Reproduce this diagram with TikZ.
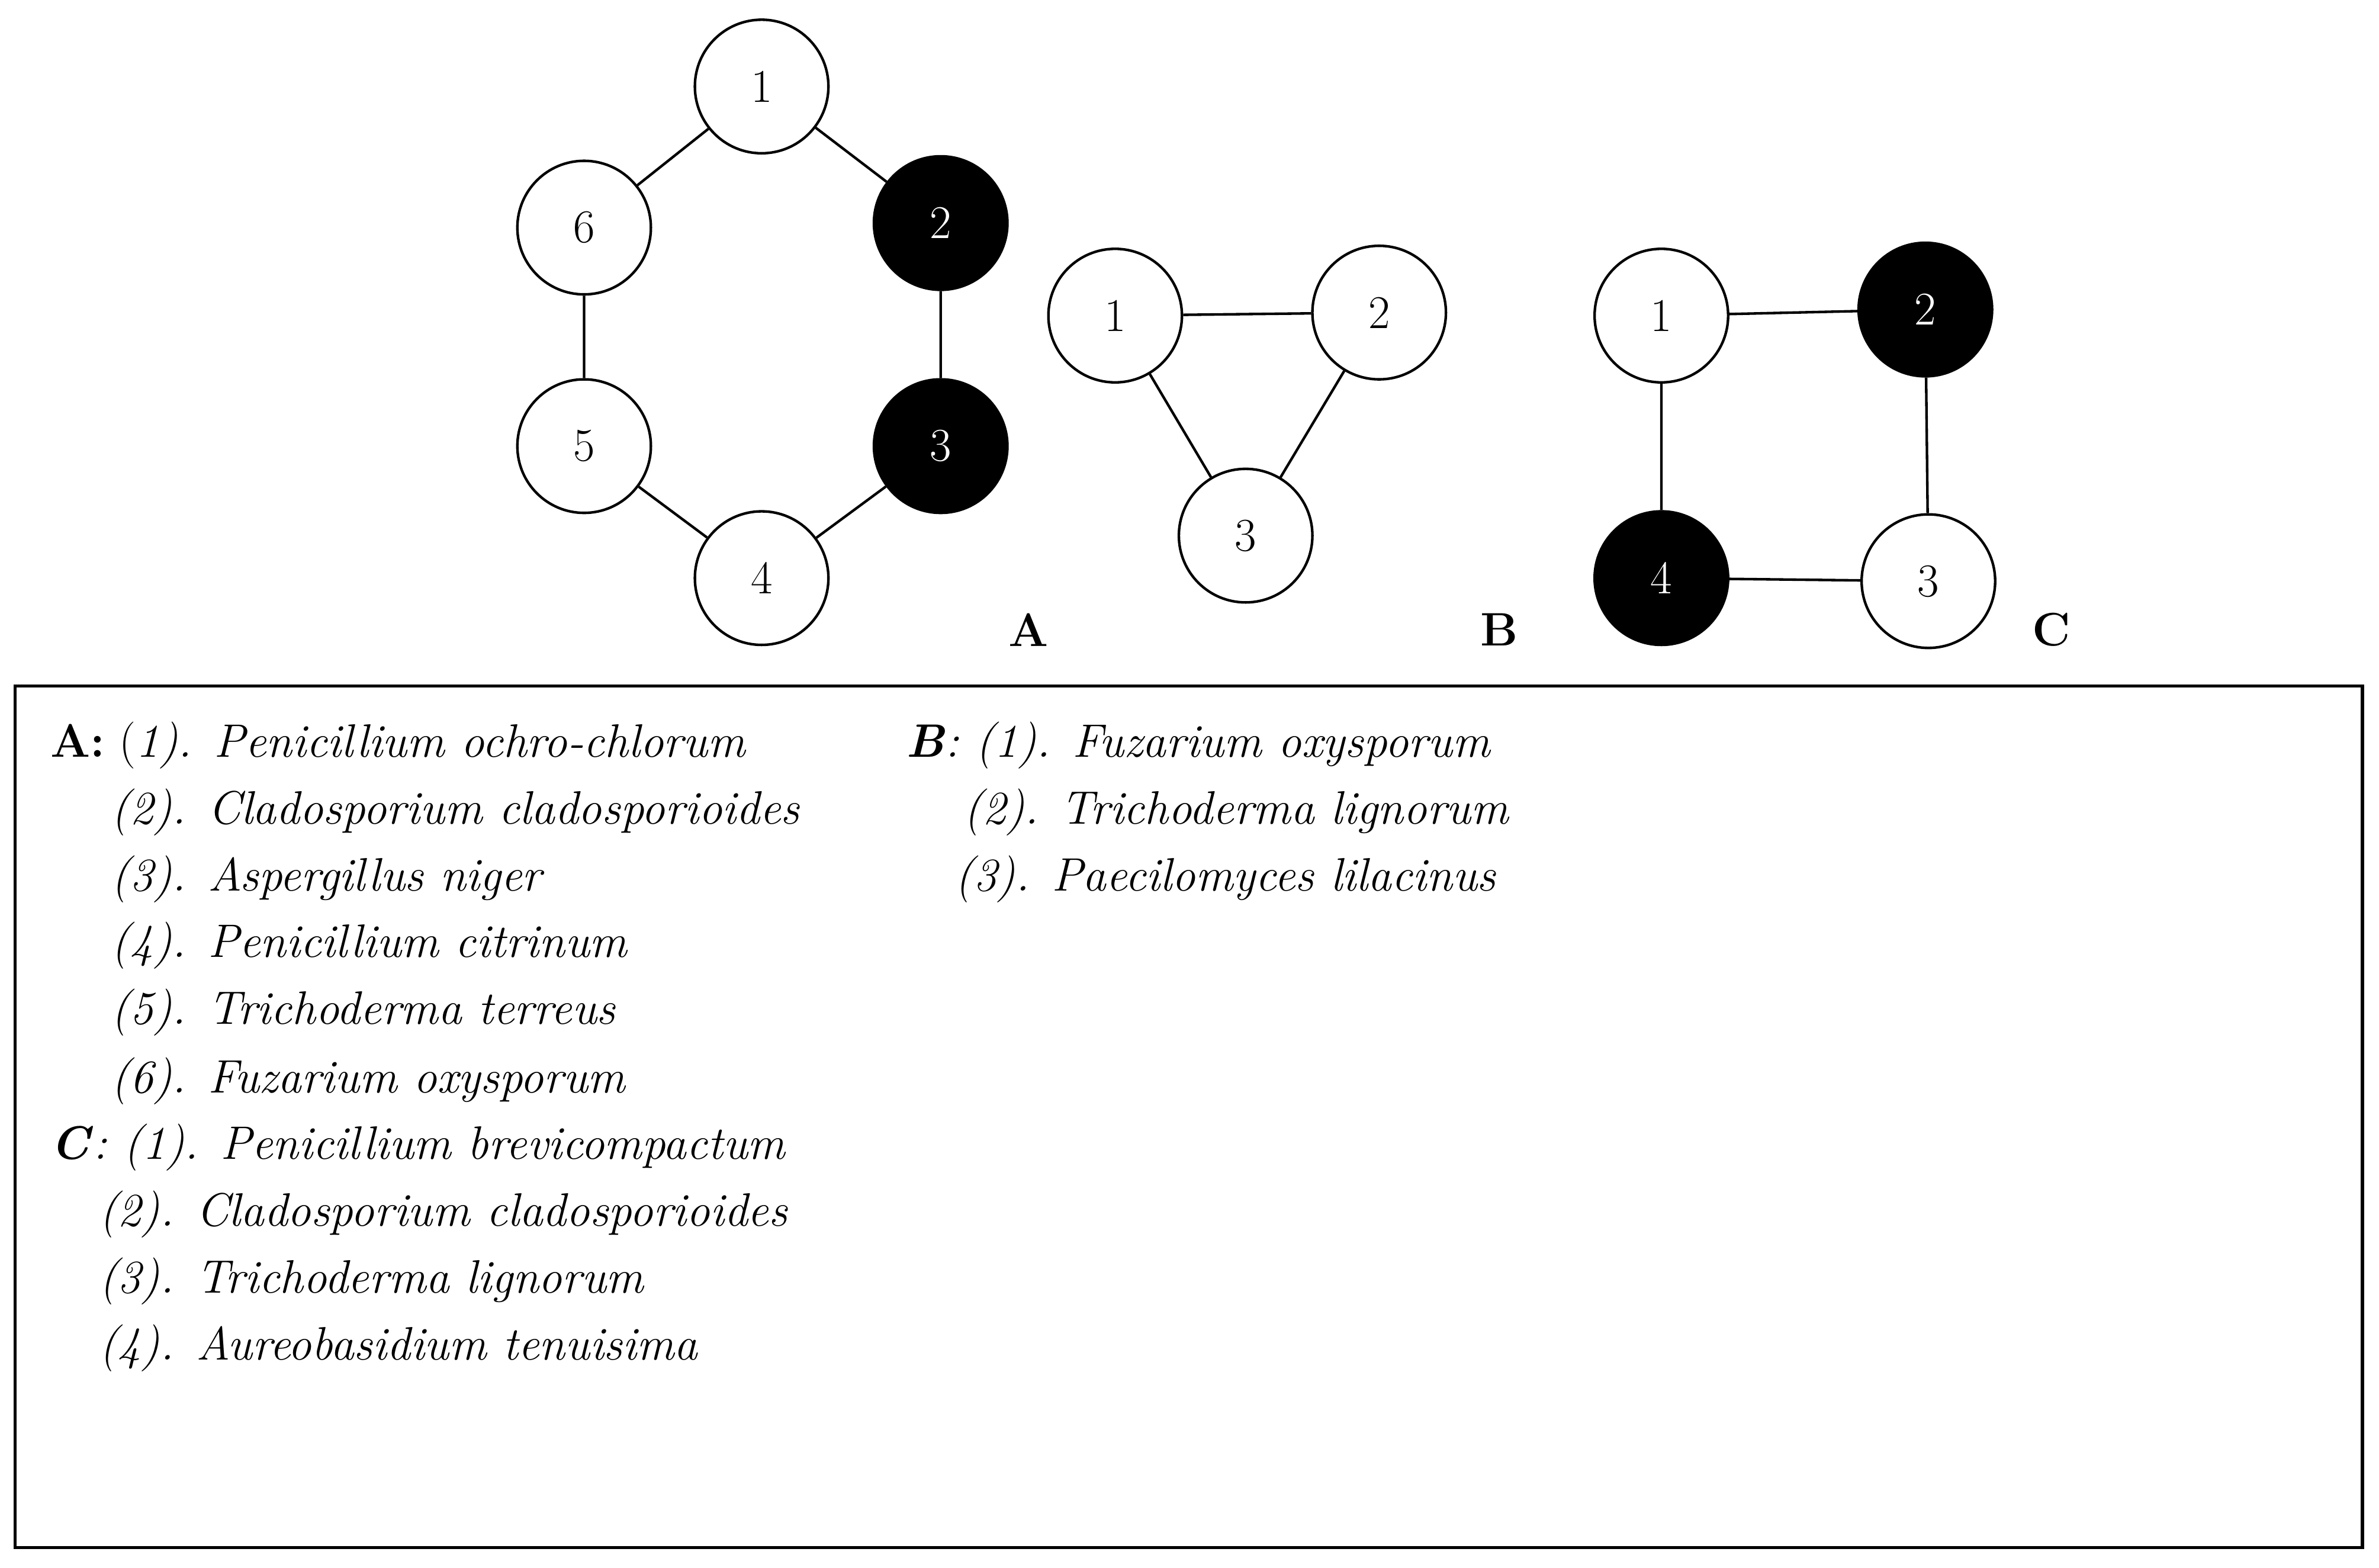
\documentclass[tikz,border=0pt]{standalone}
\begin{document}
\begin{tikzpicture}[x=0.025cm,y=-0.025cm,
  v/.style={circle,draw,line width=1.2pt,minimum size=2.2cm,inner sep=0pt,font=\fontsize{22}{26}\selectfont},
  b/.style={v,fill=black,text=white},
  e/.style={line width=1.2pt},
  lab/.style={font=\fontsize{22}{26}\selectfont\bfseries},
  t/.style={anchor=base west,inner sep=0pt,font=\fontsize{22}{26}\selectfont}]
\useasboundingbox (0,0) rectangle (1568,1033);
% A
\node[v] (a1) at (502,57) {1};
\node[b] (a2) at (620,147) {2};
\node[b] (a3) at (620,294) {3};
\node[v] (a4) at (502,381) {4};
\node[v] (a5) at (385,294) {5};
\node[v] (a6) at (385,150) {6};
\draw[e] (a1)--(a2) (a2)--(a3) (a3)--(a4) (a4)--(a5) (a5)--(a6) (a6)--(a1);
% B
\node[v] (b1) at (735,208) {1};
\node[v] (b2) at (909,206) {2};
\node[v] (b3) at (821,353) {3};
\draw[e] (b1)--(b2) (b2)--(b3) (b3)--(b1);
% C
\node[v] (c1) at (1095,208) {1};
\node[b] (c2) at (1269,204) {2};
\node[v] (c3) at (1271,383) {3};
\node[b] (c4) at (1095,381) {4};
\draw[e] (c1)--(c2) (c2)--(c3) (c3)--(c4) (c4)--(c1);
\node[lab] (la) at (678,415) {A};
\node[lab] (lb) at (988,415) {B};
\node[lab] (lc) at (1352,415) {C};
% box
\draw[line width=1.5pt] (10,452) rectangle (1557,1020);
\node[t] (t1) at (33,499) {\textbf{A:} (\textit{1). Penicillium ochro-chlorum}};
\node[t] (t2) at (73,543) {\textit{(2). Cladosporium cladosporioides}};
\node[t] (t3) at (73,587) {\textit{(3). Aspergillus niger}};
\node[t] (t4) at (73,631) {\textit{(4). Penicillium citrinum}};
\node[t] (t5) at (73,675) {\textit{(5). Trichoderma terreus}};
\node[t] (t6) at (73,720) {\textit{(6). Fuzarium oxysporum}};
\node[t] (t7) at (33,764) {\textbf{\textit{C}}\textit{: (1). Penicillium brevicompactum}};
\node[t] (t8) at (65,808) {\textit{(2). Cladosporium cladosporioides}};
\node[t] (t9) at (65,852) {\textit{(3). Trichoderma lignorum}};
\node[t] (t10) at (65,896) {\textit{(4). Aureobasidium tenuisima}};
\node[t] (s1) at (597,499) {\textbf{\textit{B}}\textit{: (1). Fuzarium oxysporum}};
\node[t] (s2) at (635,543) {\textit{(2). Trichoderma lignorum}};
\node[t] (s3) at (629,587) {\textit{(3). Paecilomyces lilacinus}};
\end{tikzpicture}
\end{document}
